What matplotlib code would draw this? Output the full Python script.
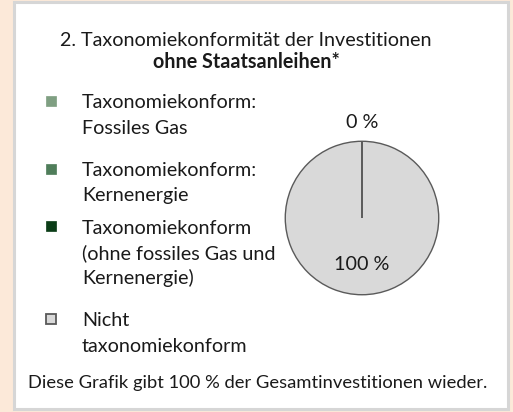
import matplotlib
matplotlib.use("Agg")
import matplotlib.pyplot as plt
from matplotlib.patches import Rectangle

plt.rcParams['font.family'] = ['Lato', 'DejaVu Sans']

# data
categories = ["Taxonomiekonform:\nFossiles Gas",
              "Taxonomiekonform:\nKernenergie",
              "Taxonomiekonform\n(ohne fossiles Gas und\nKernenergie)",
              "Nicht\ntaxonomiekonform"]
values = [0, 0, 0, 100]
colors = ["#7f9f82", "#4f7d5a", "#0b3d17", "#d9d9d9"]
title_1 = "2. Taxonomiekonformität der Investitionen"
title_2 = "ohne Staatsanleihen*"
footer = "Diese Grafik gibt 100 % der Gesamtinvestitionen wieder."

W, H = 513, 412
fig = plt.figure(figsize=(W / 100, H / 100), dpi=100)
fig.patch.set_facecolor("#fce9d9")

def fx(x):
    return x / W

def fy(y):
    return 1 - y / H

# white panel with grey frame
fig.patches.append(Rectangle((fx(14), fy(409)), fx(494), 407 / H,
                             transform=fig.transFigure, facecolor="white",
                             edgecolor="#d6d6d6", linewidth=2.2, zorder=-5))

fs = 14.2
fig.text(fx(246), fy(41), title_1, ha="center", va="center", fontsize=fs, color="#1a1a1a")
fig.text(fx(246), fy(62), title_2, ha="center", va="center", fontsize=fs,
         fontweight="bold", color="#1a1a1a")

# legend
text_y = [103, 171, 228, 321]
line_h = 25
for lab, col, y in zip(categories, colors, text_y):
    grey = col == "#d9d9d9"
    fig.patches.append(Rectangle((fx(45.5), fy(y + 2.5)), fx(10), 10 / H,
                                 transform=fig.transFigure, facecolor=col,
                                 edgecolor="#595959" if grey else col,
                                 linewidth=1.3 if grey else 0.5))
    for i, line in enumerate(lab.split("\n")):
        fig.text(fx(82), fy(y + i * line_h), line, ha="left", va="center",
                 fontsize=fs, color="#1a1a1a")

fig.text(fx(258), fy(383), footer, ha="center", va="center", fontsize=13.2, color="#1a1a1a")

# pie
cx, cy, r = 362, 218, 77.5
ax = fig.add_axes([fx(cx - r), fy(cy + r), 2 * r / W, 2 * r / H])
labels = ["", "", "", ""]
labels[2] = f"{values[2]:.0f} %"
wedges, texts, autotexts = ax.pie(
    values, colors=colors, startangle=90, counterclock=False,
    labels=labels, labeldistance=1.24,
    autopct=lambda p: f"{p:.0f} %" if p > 50 else "", pctdistance=0.6,
    wedgeprops=dict(edgecolor="#5a5a5a", linewidth=1.0),
    textprops=dict(fontsize=fs, color="#1a1a1a"))
for w, v in zip(wedges, values):
    if v == 0:
        w.set_zorder(3)
for t in texts:
    t.set_ha("center")
    t.set_va("center")
ax.set_xlim(-1.01, 1.01)
ax.set_ylim(-1.01, 1.01)
ax.set_aspect("equal")

fig.savefig("out.png", dpi=100, facecolor=fig.get_facecolor())
